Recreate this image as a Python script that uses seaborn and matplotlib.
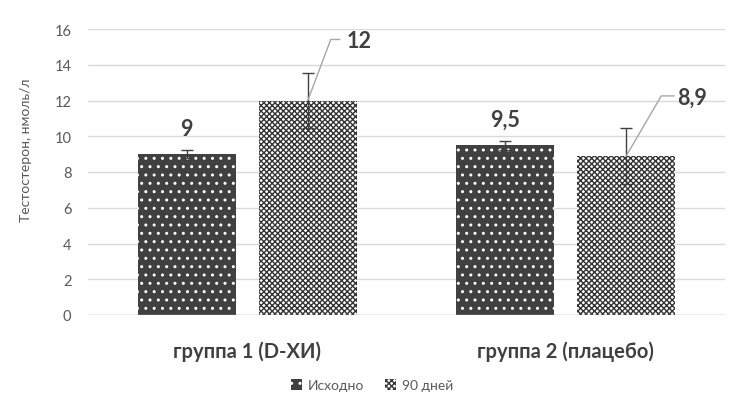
import matplotlib
matplotlib.use("Agg")
import matplotlib.pyplot as plt
from matplotlib.patches import Patch
import seaborn as sns
import pandas as pd
import numpy as np

categories = ["группа 1 (D-ХИ)", "группа 2 (плацебо)"]
series = ["Исходно", "90 дней"]
baseline = [9.0, 9.5]
day90 = [12.0, 8.9]
err_baseline = [0.23, 0.25]
err_day90 = [1.55, 1.55]
yticks = [0, 2, 4, 6, 8, 10, 12, 14, 16]
ylabel = "Тестостерон, нмоль/л"

df = pd.DataFrame({
    "group": categories * 2,
    "series": [series[0]] * 2 + [series[1]] * 2,
    "value": baseline + day90,
    "err": err_baseline + err_day90,
})

sns.set_theme(style="white")
plt.rcParams["font.family"] = ["Lato", "DejaVu Sans"]

fig = plt.figure(figsize=(7.4, 4.14), dpi=100)
ax = fig.add_axes([88 / 740, 1 - 316 / 414, (725 - 88) / 740, (316 - 30) / 414])

dark = "#404040"
ax.set_axisbelow(True)
sns.barplot(data=df, x="group", y="value", hue="series", order=categories,
            hue_order=series, palette=[dark, "#ffffff"], width=0.76, gap=0.19,
            errorbar=None, legend=False, ax=ax)

ax.set_xlim(-0.5, 1.5)
ax.set_ylim(0, 16)
ax.set_yticks(yticks)
ax.yaxis.grid(True, color="#d9d9d9", linewidth=1)
for s in ax.spines.values():
    s.set_visible(False)
ax.axhline(0, color="#bfbfbf", linewidth=1, zorder=1)

styles = {
    series[0]: dict(facecolor=dark, edgecolor="white", hatch=".."),
    series[1]: dict(facecolor="white", edgecolor="#333333", hatch="xxxxxx"),
}

bars = [p for p in ax.patches if p.get_height() > 0]
bars.sort(key=lambda p: p.get_x())
rows = []
for gi, g in enumerate(categories):
    for si, s in enumerate(series):
        r = df[(df.group == g) & (df.series == s)].iloc[0]
        rows.append((s, r.value, r.err))

# leader-line geometry (pixel offsets) for the "90 дней" labels, per group
leader = [((23, 61), (32, 61), (39, 60)), ((35, 60), (48, 60), (51, 59))]

fig.canvas.draw()
k = 0
for bar, (s, v, e) in zip(bars, rows):
    st = styles[s]
    bar.set_facecolor(st["facecolor"])
    bar.set_edgecolor(st["edgecolor"])
    bar.set_hatch(st["hatch"])
    bar.set_linewidth(0)
    xc = bar.get_x() + bar.get_width() / 2
    ax.errorbar(xc, v, yerr=e, fmt="none", ecolor="#404040", elinewidth=1,
                capsize=4, capthick=1, zorder=5)
    label = f"{v:g}".replace(".", ",")
    if s == series[0]:
        ax.annotate(label, xy=(xc, v + e), xytext=(0, 8), textcoords="offset points",
                    ha="center", va="bottom", fontsize=15.5, fontweight="bold",
                    color="#404040")
    else:
        a, b, t = leader[k]
        k += 1
        p0 = ax.transData.transform((xc, v))
        pts = np.array([p0, p0 + a, p0 + b])
        dpts = ax.transData.inverted().transform(pts)
        ax.plot(dpts[:, 0], dpts[:, 1], color="#a6a6a6", linewidth=1, zorder=6,
                clip_on=False)
        tpos = ax.transData.inverted().transform(p0 + t)
        ax.text(tpos[0], tpos[1], label, ha="left", va="center", fontsize=15.5,
                fontweight="bold", color="#404040")

ax.set_xlabel("")
ax.set_ylabel(ylabel, fontsize=10, color="#595959")
ax.yaxis.set_label_coords(-0.088, 0.58)
ax.tick_params(axis="y", labelsize=10.5, labelcolor="#595959", length=0, pad=12)
ax.tick_params(axis="x", labelsize=14.5, labelcolor="#404040", length=0, pad=18)
for t in ax.get_xticklabels():
    t.set_fontweight("bold")

handles = [Patch(facecolor=styles[s]["facecolor"], edgecolor=styles[s]["edgecolor"],
                 hatch=styles[s]["hatch"], linewidth=0, label=s) for s in series]
fig.legend(handles=handles, loc="center", bbox_to_anchor=(372 / 740, 1 - 386 / 414),
           ncol=2, frameon=False, fontsize=10, handlelength=0.8, handleheight=0.8,
           handletextpad=0.4, columnspacing=1.5, labelcolor="#595959")

fig.savefig("out.png", dpi=100)
